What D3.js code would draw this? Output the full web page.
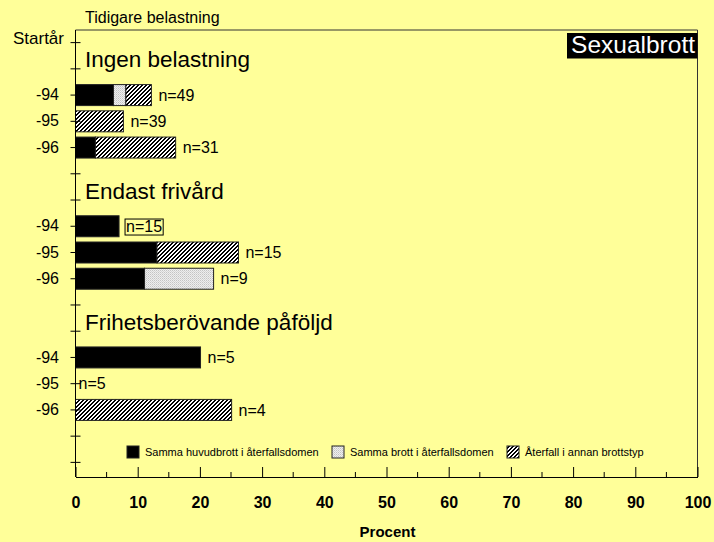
<!DOCTYPE html>
<html><head><meta charset="utf-8">
<script src="https://cdn.jsdelivr.net/npm/d3@7"></script>
<style>
html,body{margin:0;padding:0;background:#FFFF99;}
svg{display:block;font-family:"Liberation Sans",Arial,sans-serif;}
</style></head>
<body><svg id="c" width="714" height="542"></svg>
<script>
// ---- data ----
const groups = ["Ingen belastning", "Endast frivård", "Frihetsberövande påföljd"];
const years = ["-94", "-95", "-96"];
const seriesNames = ["Samma huvudbrott i återfallsdomen", "Samma brott i återfallsdomen", "Återfall i annan brottstyp"];
// values in percent, order: group x year
const sameMainCrime = [6.1, 0, 3.2,   7.0, 13.1, 11.1,   20.1, 0, 0];
const sameCrime     = [2.0, 0, 0,     0,   0,    11.1,   0,    0, 0];
const otherCrime    = [4.1, 7.7, 12.9, 0,  13.1, 0,      0,    0, 25.1];
const nLabels = ["n=49", "n=39", "n=31", "n=15", "n=15", "n=9", "n=5", "n=5", "n=4"];
const boxedLabel = "Endast frivård|-94";
const xTicks = [0, 10, 20, 30, 40, 50, 60, 70, 80, 90, 100];
const xMinorTicks = [5, 15, 25, 35, 45, 55, 65, 75, 85, 95];

// ---- setup ----
const FONT = "'Liberation Sans', Arial, sans-serif";
const svg = d3.select("#c");
const W = 714, H = 542;
svg.append("rect").attr("width", W).attr("height", H).attr("fill", "#FFFF99");

const defs = svg.append("defs");
const hatch = defs.append("pattern").attr("id", "hatch").attr("patternUnits", "userSpaceOnUse")
  .attr("width", 4).attr("height", 4);
hatch.append("rect").attr("width", 4).attr("height", 4).attr("fill", "#fff");
[[2,0],[3,0],[1,1],[2,1],[0,2],[1,2],[3,3],[0,3]].forEach(p =>
  hatch.append("rect").attr("x", p[0]).attr("y", p[1]).attr("width", 1).attr("height", 1).attr("fill", "#000"));
const dots = defs.append("pattern").attr("id", "dots").attr("patternUnits", "userSpaceOnUse")
  .attr("width", 2).attr("height", 2);
dots.append("rect").attr("width", 2).attr("height", 2).attr("fill", "#eeeeee");
dots.append("rect").attr("width", 1).attr("height", 1).attr("fill", "#c4c4c4");
dots.append("rect").attr("x", 1).attr("y", 1).attr("width", 1).attr("height", 1).attr("fill", "#d6d6d6");
const fills = ["#000", "url(#dots)", "url(#hatch)"];

const pLeft = 75.5, pRight = 697.5, pTop = 30, pBottom = 477;

const rowKeys = ["top"];
groups.forEach(g => { rowKeys.push(g + "|h"); years.forEach(yr => rowKeys.push(g + "|" + yr)); rowKeys.push(g + "|b"); });
rowKeys.push("end");

const x = d3.scaleLinear().domain([0, 100]).range([pLeft, pRight]);
const y = d3.scaleBand().domain(rowKeys).range([29.5, 475.5]).paddingInner(0.2).paddingOuter(0.1);

// records
const records = [];
groups.forEach((g, gi) => years.forEach((yr, yi) => {
  const i = gi * 3 + yi;
  records.push({ key: g + "|" + yr, vals: [sameMainCrime[i], sameCrime[i], otherCrime[i]], n: nLabels[i] });
}));

// frame (top & right)
svg.append("path").attr("d", `M${pLeft},${pTop}H${pRight}V${pBottom}`).attr("fill", "none")
  .attr("stroke", "#333").attr("stroke-width", 1);

// bars
records.forEach(r => {
  let acc = 0;
  r.vals.forEach((v, si) => {
    if (v > 0) {
      svg.append("rect").attr("x", x(acc)).attr("y", y(r.key))
        .attr("width", x(acc + v) - x(acc)).attr("height", y.bandwidth())
        .attr("fill", fills[si]).attr("stroke", "#222").attr("stroke-width", 1);
    }
    acc += v;
  });
  r.total = acc;
});

// n labels
records.forEach(r => {
  const t = svg.append("text").attr("x", x(r.total) + (r.total > 0 ? 7 : 3))
    .attr("y", y(r.key) + y.bandwidth() / 2).attr("dy", "0.36em")
    .attr("font-size", 16).attr("font-family", FONT).attr("fill", "#000").text(r.n);
  if (r.key === boxedLabel) {
    const b = t.node().getBBox();
    svg.insert("rect", "text").attr("x", b.x - 1).attr("y", b.y + 1).attr("width", b.width + 2).attr("height", b.height - 1)
      .attr("fill", "none").attr("stroke", "#000").attr("stroke-width", 1);
  }
});

// group headings
groups.forEach(g => {
  svg.append("text").attr("x", 85).attr("y", y(g + "|h") + y.bandwidth() / 2 - 1.5)
    .attr("font-size", 22.5).attr("font-family", FONT).attr("fill", "#000").text(g);
});

// y axis
const yAxis = d3.axisLeft(y).tickSize(5).tickPadding(11.5)
  .tickFormat(k => { const p = k.split("|"); return years.includes(p[1]) ? p[1] : ""; });
const ya = svg.append("g").attr("transform", `translate(${pLeft},0)`).call(yAxis);
ya.select(".domain").attr("d", `M0,${pTop}V${pBottom}`).attr("stroke", "#000");
ya.selectAll(".tick line").attr("x1", -5).attr("x2", 5).attr("stroke", "#000");
ya.selectAll(".tick text").attr("font-size", 16).attr("font-family", FONT).attr("fill", "#000");

// x axis
const xAxis = d3.axisBottom(x).tickValues(xTicks).tickSizeInner(-10).tickSizeOuter(0).tickPadding(20);
const xa = svg.append("g").attr("transform", `translate(0,${pBottom})`).call(xAxis);
xa.select(".domain").attr("stroke", "#000");
xa.selectAll(".tick line").attr("stroke", "#000");
xa.selectAll(".tick text").attr("font-size", 16).attr("font-weight", "bold")
  .attr("font-family", FONT).attr("fill", "#000");
xa.selectAll(".minor").data(xMinorTicks).enter().append("line").attr("class", "minor")
  .attr("x1", d => x(d)).attr("x2", d => x(d)).attr("y1", 0).attr("y2", -5).attr("stroke", "#000");

svg.append("text").attr("x", (pLeft + pRight) / 2 + 1).attr("y", 537).attr("text-anchor", "middle")
  .attr("font-size", 15).attr("font-weight", "bold").attr("font-family", FONT).attr("fill", "#000").text("Procent");

// axis titles
svg.append("text").attr("x", 85).attr("y", 23).attr("font-size", 16).attr("font-family", FONT).attr("fill", "#000").text("Tidigare belastning");
svg.append("text").attr("x", 64).attr("y", 43.5).attr("text-anchor", "end").attr("font-size", 17).attr("font-family", FONT).attr("fill", "#000").text("Startår");

// title box
svg.append("rect").attr("x", 567).attr("y", 33).attr("width", 130.5).attr("height", 25.5).attr("fill", "#000");
svg.append("text").attr("x", 695).attr("y", 53).attr("text-anchor", "end").attr("font-size", 24.5)
  .attr("font-family", FONT).attr("fill", "#fff").text("Sexualbrott");

// legend
const legX = [127, 332, 507];
seriesNames.forEach((s, i) => {
  svg.append("rect").attr("x", legX[i]).attr("y", 446).attr("width", 12).attr("height", 12)
    .attr("fill", fills[i]).attr("stroke", "#222").attr("stroke-width", 1);
  svg.append("text").attr("x", legX[i] + 18).attr("y", 452).attr("dy", "0.35em")
    .attr("font-size", 11).attr("font-family", FONT).attr("fill", "#000").text(s);
});
</script></body></html>
